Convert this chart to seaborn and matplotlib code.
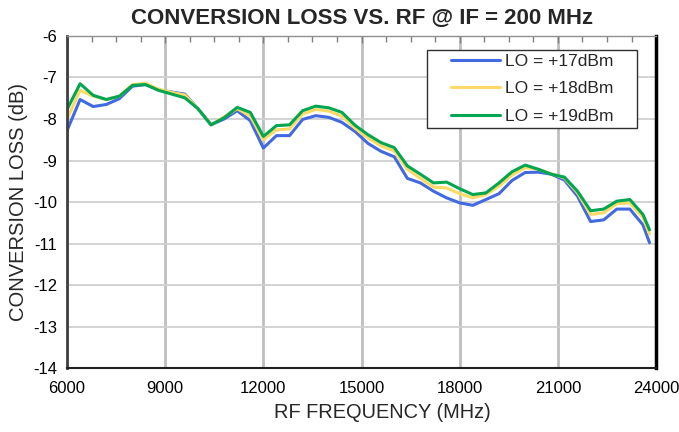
import numpy as np
import pandas as pd
import matplotlib
matplotlib.use("Agg")
import matplotlib.pyplot as plt
from matplotlib.ticker import MultipleLocator
from matplotlib.patches import Rectangle
import seaborn as sns

freq = list(range(6000, 23601, 400)) + [23800]

lo17 = [-8.28, -7.53, -7.70, -7.65, -7.51, -7.21, -7.17, -7.30, -7.35, -7.40,
        -7.75, -8.14, -8.00, -7.80, -8.04, -8.70, -8.40, -8.40, -8.01, -7.92,
        -7.96, -8.08, -8.30, -8.59, -8.78, -8.91, -9.43, -9.54, -9.74, -9.90,
        -10.02, -10.08, -9.94, -9.80, -9.48, -9.29, -9.28, -9.33, -9.47, -9.86,
        -10.47, -10.43, -10.17, -10.17, -10.55, -10.98]

lo18 = [-8.00, -7.31, -7.45, -7.53, -7.45, -7.17, -7.14, -7.28, -7.36, -7.42,
        -7.75, -8.14, -7.95, -7.75, -7.93, -8.50, -8.26, -8.24, -7.88, -7.77,
        -7.81, -7.93, -8.22, -8.46, -8.65, -8.77, -9.21, -9.43, -9.64, -9.66,
        -9.80, -9.90, -9.82, -9.62, -9.35, -9.17, -9.21, -9.32, -9.42, -9.78,
        -10.30, -10.26, -10.04, -10.02, -10.38, -10.77]

lo19 = [-7.77, -7.15, -7.43, -7.53, -7.45, -7.19, -7.17, -7.31, -7.40, -7.49,
        -7.75, -8.14, -7.97, -7.72, -7.84, -8.42, -8.16, -8.14, -7.80, -7.69,
        -7.73, -7.84, -8.15, -8.38, -8.57, -8.69, -9.13, -9.33, -9.54, -9.52,
        -9.68, -9.82, -9.78, -9.54, -9.27, -9.11, -9.21, -9.33, -9.40, -9.74,
        -10.21, -10.17, -9.98, -9.94, -10.30, -10.67]

series_names = ["LO = +17dBm", "LO = +18dBm", "LO = +19dBm"]
series_colors = ["#4169E1", "#FFD966", "#00A650"]

x_ticks = [6000, 9000, 12000, 15000, 18000, 21000, 24000]
y_ticks = [-14, -13, -12, -11, -10, -9, -8, -7, -6]

df = pd.concat([
    pd.DataFrame({"freq": freq, "loss": vals, "series": name})
    for name, vals in zip(series_names, [lo17, lo18, lo19])
], ignore_index=True)

sns.set_style("white")
plt.rcParams["font.family"] = ["Liberation Sans", "DejaVu Sans"]

fig = plt.figure(figsize=(6.79, 4.32), dpi=100)
ax = fig.add_axes([0.0987, 0.148, 0.8675, 0.7687])

sns.lineplot(data=df, x="freq", y="loss", hue="series",
             palette=dict(zip(series_names, series_colors)),
             linewidth=2.2, ax=ax, legend=True)

ax.set_xlim(6000, 24000)
ax.set_ylim(-14, -6)
ax.set_xticks(x_ticks)
ax.set_yticks(y_ticks)
ax.set_xticklabels([str(t) for t in x_ticks])
ax.set_yticklabels([str(t) for t in y_ticks])
ax.xaxis.set_minor_locator(MultipleLocator(750))
ax.yaxis.set_minor_locator(MultipleLocator(0.2))

ax.grid(False)
ax.xaxis.grid(True, which="major", color="#BFBFBF", linewidth=2.0)
ax.yaxis.grid(True, which="major", color="#D0D0D0", linewidth=1.3)
ax.set_axisbelow(True)

ax.tick_params(axis="both", which="both", direction="in", colors="#808080",
               labelcolor="black", labelsize=12)
ax.tick_params(which="major", length=5, width=1)
ax.tick_params(which="minor", length=4, width=1)
ax.tick_params(top=True, right=False, which="both")
ax.tick_params(axis="x", pad=9)
ax.tick_params(axis="y", pad=7)

for side, col, lw in [("left", "#404040", 2.0), ("bottom", "#202020", 1.5),
                      ("right", "#000000", 2.5), ("top", "#909090", 1.0)]:
    ax.spines[side].set_visible(True)
    ax.spines[side].set_color(col)
    ax.spines[side].set_linewidth(lw)

ax.set_xlabel("RF FREQUENCY (MHz)", fontsize=14.4)
ax.xaxis.set_label_coords(0.536, -0.105)
ax.set_ylabel("CONVERSION LOSS (dB)", fontsize=14.5, labelpad=4)
ax.set_title("CONVERSION LOSS VS. RF @ IF = 200 MHz", fontsize=16,
             fontweight="bold", pad=9)

# legend frame drawn separately to match the wide padding of the original
ax.add_patch(Rectangle((0.611, 0.723), 0.357, 0.235, transform=ax.transAxes,
                       facecolor="white", edgecolor="#303030", linewidth=1.0,
                       zorder=4))
leg = ax.legend(loc="upper left", bbox_to_anchor=(0.652, 0.946),
                borderaxespad=0, borderpad=0, fontsize=12.5, frameon=False,
                handlelength=2.8, handletextpad=0.3, labelspacing=0.70)
leg.set_zorder(6)

fig.savefig("out.png", dpi=100)
